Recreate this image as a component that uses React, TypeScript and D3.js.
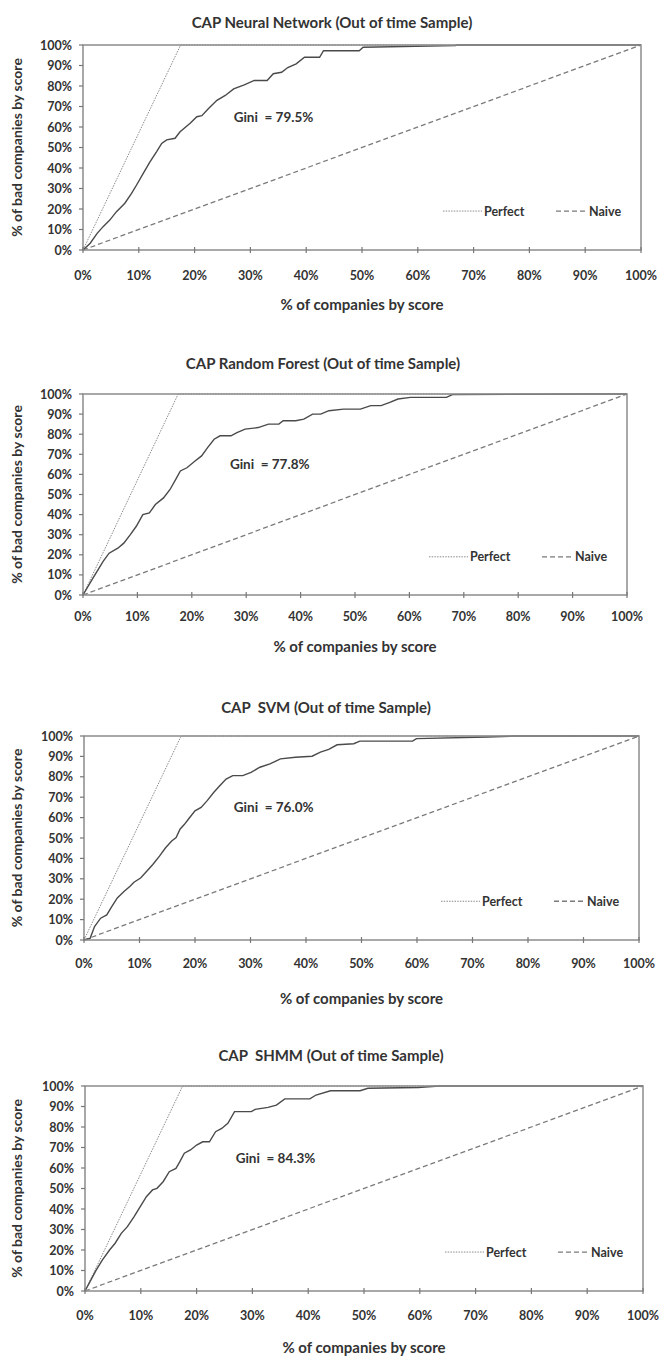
import React from "react";
import * as d3 from "d3";

// axis ticks, in percent
const axisTicks = [0, 10, 20, 30, 40, 50, 60, 70, 80, 90, 100];
const tickLabels = axisTicks.map((t) => `${t}%`);

const chartTitles = [
  "CAP Neural Network (Out of time Sample)",
  "CAP Random Forest (Out of time Sample)",
  "CAP  SVM (Out of time Sample)",
  "CAP  SHMM (Out of time Sample)",
];
const giniLabels = ["Gini  = 79.5%", "Gini  = 77.8%", "Gini  = 76.0%", "Gini  = 84.3%"];
const xAxisTitle = "% of companies by score";
const yAxisTitle = "% of bad companies by score";
const legendNames = ["Perfect", "Naive"];

// share of bad companies in the sample (where the perfect model hits 100%)
const perfectBadRate = 17.5;

// [% of companies, % of bad companies]
const nnCurve: [number, number][] = [
  [0, 0], [1.3, 3.3], [2.5, 8], [3.6, 11.4], [4.8, 14.6], [6, 18.7], [7.5, 22.8],
  [8.7, 27.6], [9.6, 31.7], [10.8, 37.4], [12, 43], [13.2, 48], [14.1, 52],
  [15, 53.7], [16.5, 54.5], [17.4, 57.7], [19.2, 61.8], [20.4, 65], [21.3, 65.5],
  [22.5, 69], [24, 73], [25.5, 75.4], [27, 78.6], [28.9, 80.5], [30.7, 82.7],
  [33, 82.7], [34.1, 86], [35.6, 86.7], [36.7, 89], [38.2, 90.8], [39.7, 94],
  [42.4, 94], [43.1, 97.2], [49.5, 97.2], [50.2, 98.9], [66.7, 99.7], [67, 100],
  [100, 100],
];

const rfCurve: [number, number][] = [
  [0, 0], [1.8, 8.3], [3.7, 16.7], [4.8, 20.8], [6.4, 23.3], [7.5, 25.8],
  [8.7, 30], [9.8, 34.2], [11, 40], [12.2, 40.8], [13.3, 45], [14.8, 48.3],
  [16, 52.5], [17.2, 58.3], [17.9, 61.7], [19.1, 63.3], [20.6, 66.7], [21.8, 69.2],
  [22.9, 73.3], [24.1, 77.5], [25.2, 79.2], [27.2, 79.2], [28.3, 80.8], [29.8, 82.5],
  [32.2, 83.3], [34.1, 85], [36, 85], [36.8, 86.7], [39.1, 86.7], [40.6, 87.5],
  [42.2, 90], [43.7, 90], [45.2, 91.7], [47.9, 92.5], [51, 92.5], [52.9, 94.2],
  [54.8, 94.2], [56.4, 95.8], [57.9, 97.5], [60.2, 98.3], [66.8, 98.3],
  [67.9, 99.7], [92.5, 100], [100, 100],
];

const svmCurve: [number, number][] = [
  [0, 0], [1.1, 0.8], [1.9, 6.6], [3, 10.7], [4.1, 12.3], [5, 16.4], [6, 20.6],
  [7.2, 23.8], [8.3, 26.3], [9, 28.3], [10.2, 30.4], [11.3, 33.7], [12.4, 37],
  [13.6, 41.1], [14.7, 45.2], [15.8, 48.5], [16.6, 50.2], [17.3, 54.3], [18.1, 56.7],
  [18.8, 59.2], [20, 63.3], [21.1, 65], [22.2, 68.3], [23.4, 72.4], [24.5, 75.7],
  [25.6, 78.9], [26.8, 80.6], [28.6, 80.6], [30.1, 82.2], [31.7, 84.7], [33.5, 86.3],
  [35.4, 88.8], [38.1, 89.6], [41.1, 90.1], [42.6, 92.1], [44.1, 93.4], [45.6, 95.7],
  [48.6, 96.2], [49.7, 97.5], [59.2, 97.5], [59.9, 98.7], [72.7, 99.5],
  [77.6, 100], [100, 100],
];

const shmmCurve: [number, number][] = [
  [0, 0], [0.9, 4.6], [2, 10.2], [3.1, 15.1], [4.4, 20], [5.4, 23.3], [6.5, 28.1],
  [7.6, 31.4], [8.8, 36.3], [9.9, 41.1], [11, 46], [12.1, 49.3], [12.9, 50.1],
  [14, 53.3], [15.1, 58.2], [16.3, 59.8], [17, 63.1], [17.8, 67.2], [18.9, 68.8],
  [20, 71.2], [21.1, 72.8], [22.3, 72.8], [23.4, 77.7], [24.5, 79.3], [25.6, 81.8],
  [26.8, 87.5], [29.8, 87.5], [30.5, 88.6], [32.8, 89.6], [34.3, 90.7], [35.8, 93.7],
  [40.3, 93.7], [41.4, 95.6], [44, 97.7], [49.3, 97.7], [50.7, 98.9], [59.7, 99.3],
  [63.5, 100], [100, 100],
];

const curves = [nnCurve, rfCurve, svmCurve, shmmCurve];
const perfectLine: [number, number][] = [[0, 0], [perfectBadRate, 100], [100, 100]];
const naiveLine: [number, number][] = [[0, 0], [100, 100]];

// where each panel's plot area sits on the page
const panels = [
  { left: 83, right: 641, top: 45, bottom: 250, titleX: 332, titleY: 22, labelY: 275, xTitleY: 304 },
  { left: 83, right: 627, top: 394, bottom: 595, titleX: 323, titleY: 363, labelY: 616, xTitleY: 646 },
  { left: 84, right: 639, top: 736, bottom: 940, titleX: 326, titleY: 707, labelY: 963, xTitleY: 998 },
  { left: 85, right: 643, top: 1086, bottom: 1291, titleX: 331, titleY: 1055, labelY: 1315, xTitleY: 1347 },
];

const font = "Lato, 'Open Sans', sans-serif";
const textColor = "#333";

function Panel({ idx }: { idx: number }) {
  const p = panels[idx];
  const x = d3.scaleLinear().domain([0, 100]).range([p.left, p.right]);
  const y = d3.scaleLinear().domain([0, 100]).range([p.bottom, p.top]);
  const line = d3
    .line<[number, number]>()
    .x((d) => x(d[0]))
    .y((d) => y(d[1]));
  const legendY = y(19);
  const r = p.right;

  return (
    <g fontFamily={font} fill={textColor} fontWeight="bold">
      <text x={p.titleX} y={p.titleY} textAnchor="middle" dominantBaseline="central" fontSize={15}
        xmlSpace="preserve">
        {chartTitles[idx]}
      </text>

      <path d={line(naiveLine) ?? ""} fill="none" stroke="#7a7a7a" strokeWidth={1.3} strokeDasharray="5,3" />
      <path d={line(perfectLine) ?? ""} fill="none" stroke="#8a8a8a" strokeWidth={1} strokeDasharray="1.5,1.2" />
      <path d={line(curves[idx]) ?? ""} fill="none" stroke="#4a4a4a" strokeWidth={1.4} />

      <rect x={p.left} y={p.top} width={p.right - p.left} height={p.bottom - p.top}
        fill="none" stroke="#8c8c8c" strokeWidth={1.5} />

      {axisTicks.map((t, i) => (
        <g key={"y" + t}>
          <line x1={p.left - 4} x2={p.left} y1={y(t)} y2={y(t)} stroke="#777" strokeWidth={1.2} />
          <text x={p.left - 11} y={y(t)} textAnchor="end" dominantBaseline="central" fontSize={12.5}>
            {tickLabels[i]}
          </text>
        </g>
      ))}
      {axisTicks.map((t, i) => (
        <g key={"x" + t}>
          <line x1={x(t)} x2={x(t)} y1={p.bottom - 3} y2={p.bottom + 3} stroke="#777" strokeWidth={1.2} />
          <text x={x(t)} y={p.labelY} textAnchor="middle" dominantBaseline="central" fontSize={12.5}>
            {tickLabels[i]}
          </text>
        </g>
      ))}

      <text x={x(50)} y={p.xTitleY} textAnchor="middle" dominantBaseline="central" fontSize={15}>
        {xAxisTitle}
      </text>
      <text transform={`translate(16,${(p.top + p.bottom) / 2}) rotate(-90)`} textAnchor="middle"
        dominantBaseline="central" fontSize={14}>
        {yAxisTitle}
      </text>

      <text x={x(27)} y={y(65)} dominantBaseline="central" fontSize={13.5} xmlSpace="preserve">
        {giniLabels[idx]}
      </text>

      <line x1={r - 198} x2={r - 159} y1={legendY} y2={legendY} stroke="#8a8a8a" strokeWidth={1} strokeDasharray="1.5,1.2" />
      <text x={r - 157} y={legendY} dominantBaseline="central" fontSize={12.5}>{legendNames[0]}</text>
      <line x1={r - 85} x2={r - 54} y1={legendY} y2={legendY} stroke="#7a7a7a" strokeWidth={1.3} strokeDasharray="5,3" />
      <text x={r - 52} y={legendY} dominantBaseline="central" fontSize={12.5}>{legendNames[1]}</text>
    </g>
  );
}

export default function App() {
  return (
    <svg width={659} height={1357} style={{ position: "absolute", left: 0, top: 0, background: "#fff" }}>
      <rect width={659} height={1357} fill="#fff" />
      {panels.map((_, i) => (
        <Panel key={i} idx={i} />
      ))}
    </svg>
  );
}
